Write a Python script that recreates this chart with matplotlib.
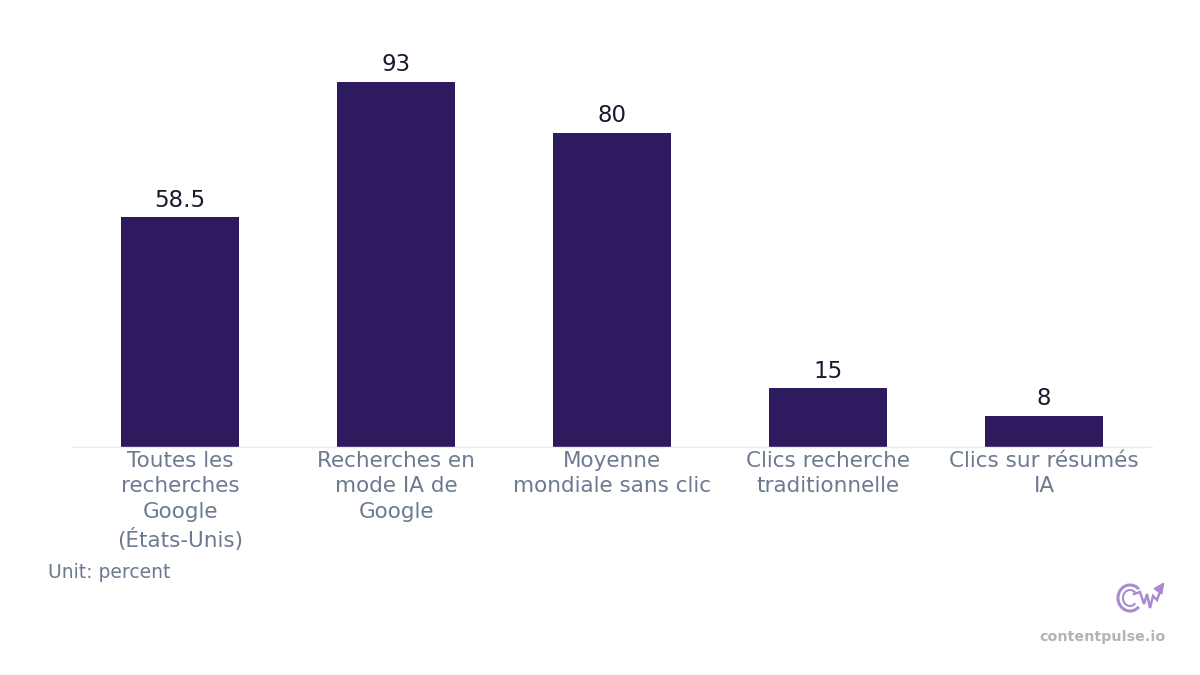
import numpy as np
import matplotlib
matplotlib.use("Agg")
import matplotlib.pyplot as plt
from matplotlib.patches import Arc

plt.rcParams["font.family"] = ["DejaVu Sans"]

# --- données ---
categories = [
    "Toutes les\nrecherches\nGoogle\n(États-Unis)",
    "Recherches en\nmode IA de\nGoogle",
    "Moyenne\nmondiale sans clic",
    "Clics recherche\ntraditionnelle",
    "Clics sur résumés\nIA",
]
values = [58.5, 93, 80, 15, 8]
value_labels = ["58.5", "93", "80", "15", "8"]

bar_color = "#2e1a5f"
tick_color = "#6b7a90"

fig = plt.figure(figsize=(12, 6.75), dpi=100)
ax = fig.add_axes([0.06, 0.3378, 0.9, 0.5815])

x = np.arange(len(categories))
bars = ax.bar(x, values, width=0.55, color=bar_color)

for b, lab in zip(bars, value_labels):
    ax.annotate(lab, (b.get_x() + b.get_width() / 2, b.get_height()),
                xytext=(0, 4), textcoords="offset points",
                ha="center", va="bottom", fontsize=16.5, color="#1a1a2e")

ax.set_xlim(-0.5, len(categories) - 0.5)
ax.set_ylim(0, 100)
ax.set_yticks([])
ax.set_xticks(x)
ax.set_xticklabels(categories, fontsize=15.5, color=tick_color, linespacing=1.33)
ax.tick_params(axis="x", length=0, pad=3)
for s in ["top", "right", "left"]:
    ax.spines[s].set_visible(False)
ax.spines["bottom"].set_color("#ebebeb")
ax.spines["bottom"].set_linewidth(1)

fig.text(48 / 1200, 1 - 572 / 675, "Unit: percent", fontsize=13.5,
         color=tick_color, ha="left", va="center")
fig.text(1166 / 1200, 1 - 637 / 675, "contentpulse.io", fontsize=10.3,
         fontweight="bold", color="#b4b4b4", ha="right", va="center")

# petit logo approximatif
lx = fig.add_axes([1116 / 1200, 1 - 614 / 675, 52 / 1200, 36 / 675])
lx.set_xlim(0, 52)
lx.set_ylim(0, 36)
lx.axis("off")
logo = "#a98bcf"
lx.add_patch(Arc((14, 16), 24, 26, theta1=45, theta2=315, color=logo, lw=2.2))
lx.add_patch(Arc((14, 16), 14, 16, theta1=45, theta2=315, color=logo, lw=1.5))
lx.plot([18, 24, 28, 31, 34, 37, 41, 46], [20, 22, 10, 20, 6, 18, 14, 28],
        color=logo, lw=1.8, solid_joinstyle="miter")
lx.annotate("", xy=(50, 34), xytext=(45, 27),
            arrowprops=dict(arrowstyle="-|>", color=logo, lw=1.8,
                            mutation_scale=14))

fig.savefig("out.png", dpi=100, facecolor="white")
